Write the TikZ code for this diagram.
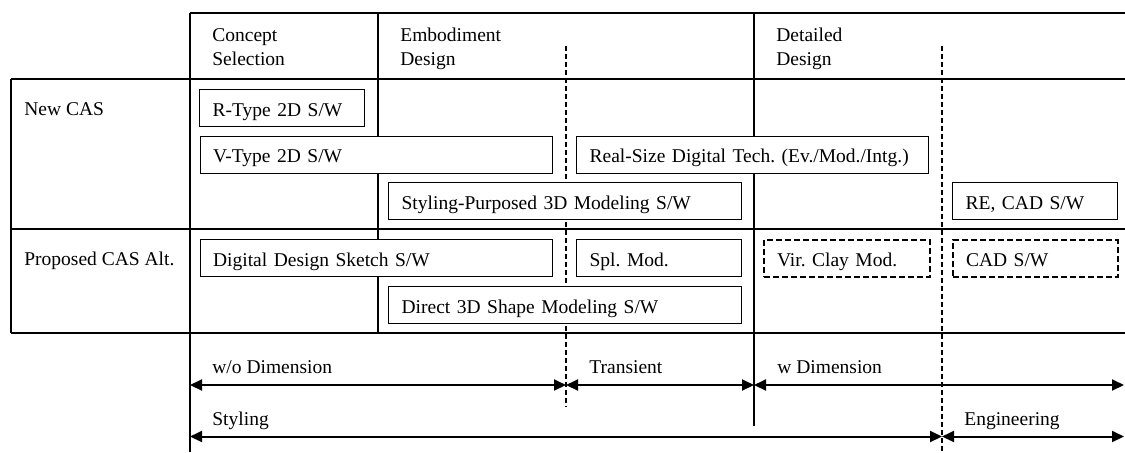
\documentclass[tikz,border=0pt]{standalone}
\usepackage{fontspec}
\setmainfont{Liberation Serif}
\usetikzlibrary{arrows.meta}
\begin{document}
\frenchspacing
\begin{tikzpicture}[x=0.5pt,y=-0.5pt,
  font=\fontsize{9.75}{12}\selectfont,
  grid/.style={line width=0.6pt},
  phase/.style={line width=1pt, dash pattern=on 2.5pt off 1.5pt},
  box/.style={draw, line width=0.65pt, fill=white, anchor=north west,
    minimum height=18.5pt, inner xsep=6.5pt, inner ysep=0pt, align=left,
    text height=10pt, text depth=2pt},
  altbox/.style={box, line width=1pt, dash pattern=on 3pt off 1.5pt},
  span/.style={line width=1pt,
    {Triangle[length=6pt,width=5.5pt]}-{Triangle[length=6pt,width=5.5pt]}},
  lbl/.style={anchor=base west, inner sep=0pt}]
\useasboundingbox (0,0) rectangle (1125,452);

% table frame
\draw[grid] (190,13) -- (1125,13);
\draw[grid] (11,79) -- (1125,79);
\draw[grid] (11,229) -- (1125,229);
\draw[grid] (11,333) -- (1125,333);
\draw[grid] (11,79) -- (11,333);
\draw[grid] (190,13) -- (190,452);
\draw[grid] (378,13) -- (378,333);
\draw[grid] (754,13) -- (754,426);
% phase boundaries
\draw[phase] (566,46) -- (566,407);
\draw[phase] (942,46) -- (942,452);

% column headers (base anchor sits on the last line)
\node[lbl, align=left] (hcs) at (212,65.7) {Concept\\Selection};
\node[lbl, align=left] (hed) at (400,65.7) {Embodiment\\Design};
\node[lbl, align=left] (hdd) at (776,65.7) {Detailed\\Design};

% row headers
\node[lbl] (rnew) at (24,115.7) {New CAS};
\node[lbl] (rprop) at (24,265.7) {Proposed CAS Alt.};

% current tools
\node[box, text width=69.5pt] (rtype) at (199,89) {R-Type 2D S/W};
\node[box, text width=163.25pt] (vtype) at (199.5,135.5) {V-Type 2D S/W};
\node[box, text width=163pt] (realsize) at (576,135.5) {Real-Size Digital Tech. (Ev./Mod./Intg.)};
\node[box, text width=163.25pt] (styling) at (388,182) {Styling-Purposed 3D Modeling S/W};
\node[box, text width=69.25pt] (recad) at (952,182) {RE, CAD S/W};

% proposed alternatives
\node[box, text width=163.25pt] (sketch) at (199.5,239) {Digital Design Sketch S/W};
\node[box, text width=69.25pt] (splmod) at (576,239) {Spl. Mod.};
\node[altbox, text width=70pt] (virclay) at (763,239) {Vir. Clay Mod.};
\node[altbox, text width=69.25pt] (cadsw) at (952,239) {CAD S/W};
\node[box, text width=163.25pt] (direct) at (388,286) {Direct 3D Shape Modeling S/W};

% span arrows
\coordinate (d0) at (190,385);
\coordinate (d1) at (566,385);
\coordinate (d2) at (754,385);
\coordinate (d3) at (1124,385);
\coordinate (s0) at (190,436.5);
\coordinate (s1) at (942,436.5);
\coordinate (s2) at (1124,436.5);
\draw[span] (d0) -- (d1);
\draw[span] (d1) -- (d2);
\draw[span] (d2) -- (d3);
\draw[span] (s0) -- (s1);
\draw[span] (s1) -- (s2);

\node[lbl] (lwo) at (212,373) {w/o Dimension};
\node[lbl] (ltr) at (589,373) {Transient};
\node[lbl] (lwd) at (777,373) {w Dimension};
\node[lbl] (lsty) at (212,425) {Styling};
\node[lbl] (leng) at (964,425) {Engineering};
\end{tikzpicture}
\end{document}
